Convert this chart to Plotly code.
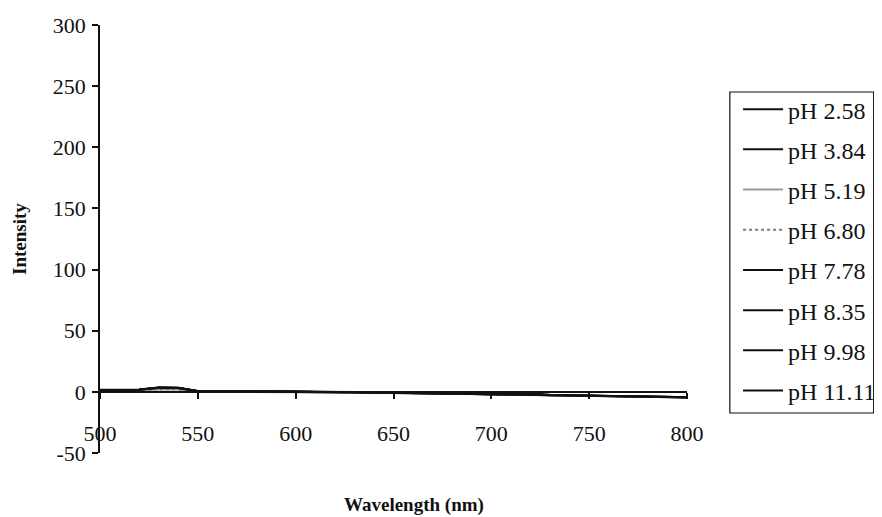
import plotly.graph_objects as go

wavelength = [500, 510, 520, 530, 540, 550, 560, 570, 580, 590, 600, 610, 620, 630, 640,
              650, 660, 670, 680, 690, 700, 710, 720, 730, 740, 750, 760, 770, 780, 790, 800]

series_names = ["pH 2.58", "pH 3.84", "pH 5.19", "pH 6.80", "pH 7.78", "pH 8.35", "pH 9.98", "pH 11.11"]

ph_2_58 = [1.5, 1.4, 1.6, 3.2, 3.0, 0.6, 0.3, 0.5, 0.2, 0.4, 0.1, -0.2, 0.0, -0.4, -0.6,
           -0.8, -1.0, -1.2, -1.4, -1.6, -1.9, -2.1, -2.3, -2.5, -2.8, -3.0, -3.3, -3.6, -3.9, -4.2, -4.5]
ph_3_84 = [1.3, 1.5, 1.8, 3.4, 3.2, 0.4, 0.5, 0.3, 0.0, 0.2, -0.1, -0.3, -0.1, -0.5, -0.5,
           -0.9, -1.1, -1.3, -1.5, -1.7, -2.0, -2.2, -2.4, -2.6, -2.9, -3.1, -3.4, -3.7, -4.0, -4.3, -4.6]
ph_5_19 = [1.2, 1.2, 1.4, 2.0, 1.9, 0.3, 0.2, 0.2, 0.1, 0.0, -0.2, -0.4, -0.3, -0.6, -0.7,
           -1.0, -1.2, -1.4, -1.6, -1.8, -2.1, -2.3, -2.5, -2.7, -3.0, -3.2, -3.5, -3.8, -4.1, -4.4, -4.7]
ph_6_80 = [1.4, 1.3, 1.5, 2.2, 2.1, 0.5, 0.4, 0.6, 0.3, 0.3, 0.0, -0.1, -0.2, -0.3, -0.6,
           -0.8, -1.0, -1.2, -1.5, -1.7, -1.9, -2.2, -2.4, -2.6, -2.9, -3.1, -3.4, -3.7, -4.0, -4.3, -4.6]
ph_7_78 = [1.6, 1.5, 1.7, 3.5, 3.3, 0.7, 0.6, 1.0, 0.4, 0.5, 0.2, 0.0, 0.1, -0.2, -0.4,
           -0.7, -0.9, -1.1, -1.3, -1.5, -1.8, -2.0, -1.0, -2.4, -2.7, -2.9, -3.2, -3.5, -3.8, -4.1, -4.4]
ph_8_35 = [1.5, 1.6, 1.7, 3.3, 3.1, 0.8, 0.4, 0.7, 0.3, 0.4, 0.1, -0.1, 0.0, -0.1, -0.5,
           -0.8, -1.0, -1.2, -1.4, -1.6, -1.9, -2.1, -2.3, -2.5, -2.8, -3.0, -3.3, -3.6, -3.9, -4.2, -4.5]
ph_9_98 = [1.7, 1.6, 1.9, 3.6, 3.4, 0.6, 0.7, 0.6, 0.5, 0.3, 0.2, -0.1, 0.1, -0.2, -0.4,
           -0.7, -0.9, -1.1, -1.3, -1.5, -1.8, -2.0, -2.2, -2.4, -2.7, -2.9, -3.2, -3.5, -3.8, -4.1, -4.4]
ph_11_11 = [1.6, 1.7, 1.8, 3.4, 3.2, 0.5, 0.5, 0.8, 0.4, 0.3, 0.0, -0.2, 0.0, -0.3, -0.5,
            -0.8, -1.0, -1.2, -1.4, -1.6, -1.9, -2.1, -2.3, -2.5, -2.8, -3.0, -3.3, -3.6, -3.9, -4.2, -4.5]

series_values = [ph_2_58, ph_3_84, ph_5_19, ph_6_80, ph_7_78, ph_8_35, ph_9_98, ph_11_11]
line_colors = ["#111111", "#111111", "#9a9a9a", "#7a7a7a", "#111111", "#111111", "#111111", "#111111"]
line_dashes = ["solid", "solid", "solid", "dot", "solid", "solid", "solid", "solid"]

x_ticks = [500, 550, 600, 650, 700, 750, 800]
y_ticks = [-50, 0, 50, 100, 150, 200, 250, 300]

FONT = "Liberation Serif, Times New Roman, serif"

fig = go.Figure()
for i, (name, vals, col, dash) in enumerate(zip(series_names, series_values, line_colors, line_dashes)):
    fig.add_trace(go.Scatter(x=wavelength, y=vals, mode="lines", name=name,
                             legendgroup=f"g{i}",
                             line=dict(color=col, width=2, dash=dash)))

fig.update_layout(
    width=874, height=509,
    margin=dict(l=92, r=195, t=17, b=64, autoexpand=False),
    paper_bgcolor="white", plot_bgcolor="white",
    font=dict(family=FONT, size=22, color="#111111"),
    showlegend=True,
    legend=dict(x=1.087, y=0.855, xanchor="left", yanchor="top",
                borderwidth=0, bgcolor="rgba(0,0,0,0)",
                font=dict(family=FONT, size=24, color="#111111"),
                itemwidth=40, tracegroupgap=6),
    shapes=[
        dict(type="rect", xref="paper", yref="paper",
             x0=1.073, x1=1.318, y0=0.0935, y1=0.8435,
             line=dict(color="#111111", width=1.2), fillcolor="rgba(0,0,0,0)", layer="below"),
    ],
    xaxis=dict(range=[500, 800], tickvals=x_ticks, ticktext=[str(v) for v in x_ticks],
               showgrid=False, zeroline=False, showline=True, linecolor="#111111", linewidth=1.5,
               ticks="outside", ticklen=6, tickcolor="#111111", tickwidth=1.5,
               anchor="free", position=50 / 350, ticklabelstandoff=16,
               tickfont=dict(family=FONT, size=22, color="#111111")),
    yaxis=dict(range=[-50, 300], tickvals=y_ticks, ticktext=[str(v) for v in y_ticks],
               showgrid=False, zeroline=False, showline=True, linecolor="#111111", linewidth=1.5,
               ticks="outside", ticklen=6, tickcolor="#111111", tickwidth=1.5,
               ticklabelstandoff=2,
               tickfont=dict(family=FONT, size=22, color="#111111")),
    annotations=[
        dict(text="<b>Wavelength (nm)</b>", xref="paper", yref="paper", x=0.535, y=-0.122,
             xanchor="center", yanchor="middle", showarrow=False,
             font=dict(family=FONT, size=19, color="#111111")),
        dict(text="<b>Intensity</b>", xref="paper", yref="paper", x=-0.138, y=0.5,
             xanchor="center", yanchor="middle", textangle=-90, showarrow=False,
             font=dict(family=FONT, size=19, color="#111111")),
    ],
)

fig.write_html("out.html")
